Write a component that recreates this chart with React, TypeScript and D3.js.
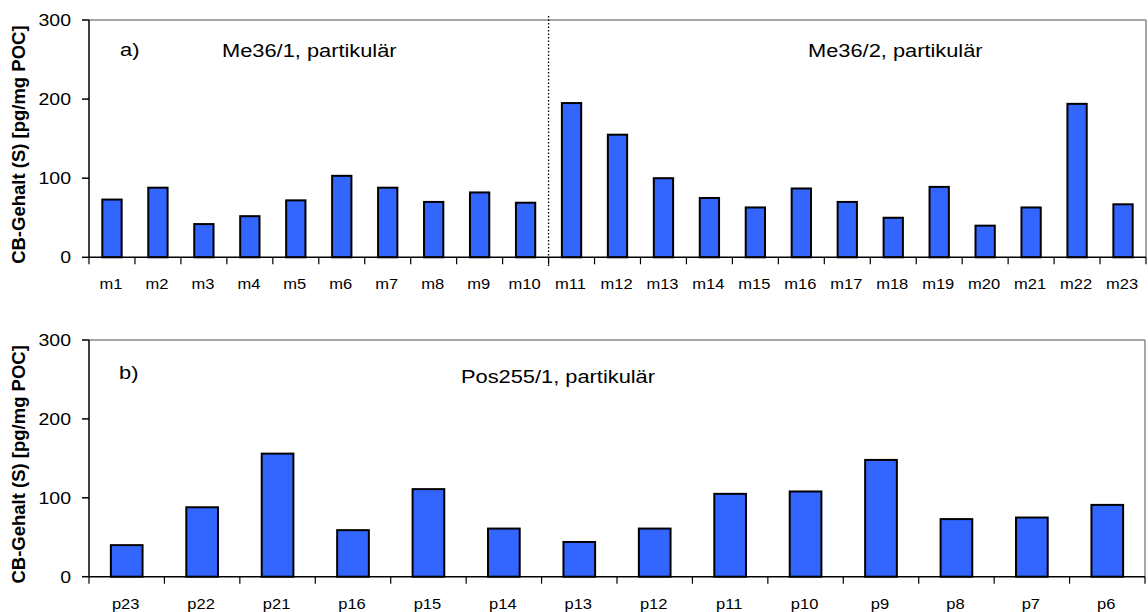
import React from "react";
import * as d3 from "d3";

const topCategories = ["m1","m2","m3","m4","m5","m6","m7","m8","m9","m10","m11","m12","m13","m14","m15","m16","m17","m18","m19","m20","m21","m22","m23"];
const topValues = [73,88,42,52,72,103,88,70,82,69,195,155,100,75,63,87,70,50,89,40,63,194,67];
const bottomCategories = ["p23","p22","p21","p16","p15","p14","p13","p12","p11","p10","p9","p8","p7","p6"];
const bottomValues = [40,88,156,59,111,61,44,61,105,108,148,73,75,91];
const yTicks = [0,100,200,300];
const yTitle = "CB-Gehalt (S) [pg/mg POC]";

const FONT = "Arial, 'Liberation Sans', Helvetica, sans-serif";
const SX = 1.18;

function T({x, y, size, anchor = "start", children, bold = false}: any) {
  return (
    <text transform={`translate(${x},${y}) scale(${SX},1)`} fontSize={size} textAnchor={anchor}
      fontFamily={FONT} fontWeight={bold ? "bold" : "normal"} fill="#000">{children}</text>
  );
}

function Panel({cats, vals, left, right, top, bottom, labelY, notes, divider}: any) {
  const x = d3.scaleBand<string>().domain(cats).range([left, right]).paddingInner(0.58).paddingOuter(0.29);
  const y = d3.scaleLinear().domain([0, 300]).range([bottom, top]);
  const step = x.step();
  const half = (step - x.bandwidth()) / 2;
  const bounds = cats.map((c: string) => (x(c) as number) - half).concat([right]);
  return (
    <g>
      {vals.map((v: number, i: number) => (
        <rect key={i} x={x(cats[i])} y={y(v)} width={x.bandwidth()} height={y(0) - y(v)}
          fill="#3366FF" stroke="#000" strokeWidth={2} />
      ))}
      <line x1={left} x2={right} y1={top} y2={top} stroke="#888" strokeWidth={1.5} />
      <line x1={right} x2={right} y1={top} y2={bottom} stroke="#888" strokeWidth={1.5} />
      <line x1={left} x2={left} y1={top} y2={bottom} stroke="#000" strokeWidth={1.5} />
      <line x1={left} x2={right} y1={bottom} y2={bottom} stroke="#000" strokeWidth={1.5} />
      {yTicks.map((t) => (
        <g key={t}>
          <line x1={left - 7} x2={left} y1={y(t)} y2={y(t)} stroke="#000" strokeWidth={1.5} />
          <T x={left - 18} y={y(t) + 6} size={16.5} anchor="end">{t}</T>
        </g>
      ))}
      {bounds.map((b: number, i: number) => (
        <line key={i} x1={b} x2={b} y1={bottom} y2={bottom + 7} stroke="#000" strokeWidth={1.2} />
      ))}
      {cats.map((c: string) => (
        <T key={c} x={(x(c) as number) + x.bandwidth() / 2 - 1} y={labelY} size={14} anchor="middle">{c}</T>
      ))}
      {divider !== undefined && (
        <line x1={bounds[divider]} x2={bounds[divider]} y1={top - 4} y2={bottom + 10}
          stroke="#000" strokeWidth={1.3} strokeDasharray="1.5,2" />
      )}
      {notes.map((n: any, i: number) => (
        <T key={i} x={n.x} y={n.y} size={18.5}>{n.text}</T>
      ))}
      <text transform={`translate(25,${(top + bottom) / 2 + 6}) rotate(-90)`} textAnchor="middle"
        fontFamily={FONT} fontWeight="bold" fontSize={18.5} fill="#000">{yTitle}</text>
    </g>
  );
}

export default function App() {
  return (
    <svg width={1148} height={612} style={{position: "absolute", left: 0, top: 0, background: "#fff"}}>
      <rect width={1148} height={612} fill="#fff" />
      <Panel cats={topCategories} vals={topValues} left={89} right={1146} top={20} bottom={257.3}
        labelY={289} divider={10}
        notes={[{x: 120, y: 56, text: "a)"}, {x: 222, y: 57, text: "Me36/1, partikulär"}, {x: 808, y: 57, text: "Me36/2, partikulär"}]} />
      <Panel cats={bottomCategories} vals={bottomValues} left={89} right={1145} top={340} bottom={576.7}
        labelY={609}
        notes={[{x: 119, y: 379, text: "b)"}, {x: 461, y: 383, text: "Pos255/1, partikulär"}]} />
    </svg>
  );
}
